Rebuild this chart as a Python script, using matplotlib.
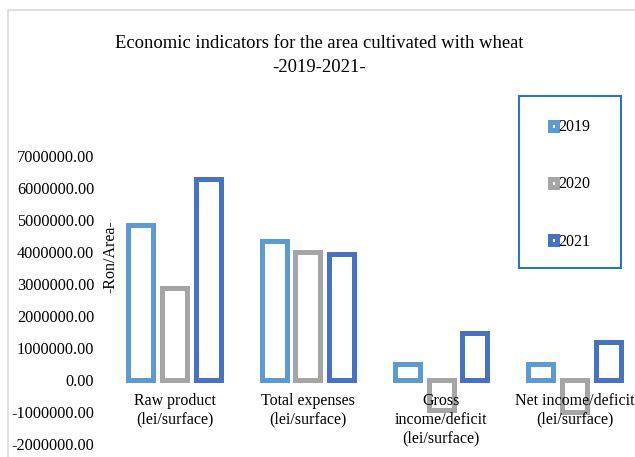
import numpy as np
import matplotlib
matplotlib.use("Agg")
import matplotlib.pyplot as plt
from matplotlib.patches import Rectangle, Patch
from matplotlib.ticker import FuncFormatter

# indicator groups on the x axis
categories = ["Raw product\n(lei/surface)",
              "Total expenses\n(lei/surface)",
              "Gross\nincome/deficit\n(lei/surface)",
              "Net income/deficit\n(lei/surface)"]

years = ["2019", "2020", "2021"]

# Ron per area, one list per year
val_2019 = [4840000.0, 4340000.0, 500000.0, 500000.0]
val_2020 = [2870000.0, 4000000.0, -950000.0, -1010000.0]
val_2021 = [6280000.0, 3950000.0, 1480000.0, 1190000.0]

colors = ["#5B9BD5", "#A5A5A5", "#4472C4"]

plt.rcParams["font.family"] = ["Liberation Serif", "DejaVu Serif"]

fig = plt.figure(figsize=(6.35, 4.57), dpi=100)
W, H = 635.0, 457.0

# light grey chart border (right and bottom run off the canvas)
fig.patches.append(Rectangle((8 / W, -0.2), 1.5, 1.2 - 10 / H,
                             transform=fig.transFigure, fill=False,
                             edgecolor="#D9D9D9", linewidth=1.2))

ax = fig.add_axes([108 / W, 13 / H, 533.3 / W, 288 / H])

x = np.arange(len(categories))
offset = 0.2525
width = 0.1875
for i, (vals, c) in enumerate(zip([val_2019, val_2020, val_2021], colors)):
    ax.bar(x + (i - 1) * offset, vals, width, facecolor="white",
           edgecolor=c, linewidth=3.6, joinstyle="miter", label=years[i])

ax.set_xlim(-0.5, 3.5)
ax.set_ylim(-2000000, 7000000)
ax.set_yticks(np.arange(-2000000, 7000001, 1000000))
ax.yaxis.set_major_formatter(FuncFormatter(lambda v, p: f"{v:.2f}"))
ax.tick_params(axis="y", length=0, pad=10, labelsize=11.7)

ax.tick_params(axis="x", length=0, pad=9.5, labelsize=11.5)
ax.set_xticks(x)
ax.set_xticklabels(categories, linespacing=1.1)
ax.spines["bottom"].set_position(("data", 0))
for s in ax.spines.values():
    s.set_visible(False)

fig.text(110 / W, 1 - 257 / H, "-Ron/Area-", rotation=90,
         ha="center", va="center", fontsize=11.5)

fig.text(319 / W, 1 - 44 / H, "Economic indicators for the area cultivated with wheat",
         ha="center", va="center", fontsize=13.4)
fig.text(319 / W, 1 - 67 / H, "-2019-2021-", ha="center", va="center", fontsize=13.4)

# legend box
fig.patches.append(Rectangle((519 / W, 1 - 268 / H), 102 / W, 172 / H,
                             transform=fig.transFigure, fill=False,
                             edgecolor="#2E75B6", linewidth=1.5))
handles = [Patch(facecolor="white", edgecolor=c, linewidth=3.6, label=y)
           for c, y in zip(colors, years)]
fig.legend(handles=handles, loc="center", bbox_to_anchor=(570 / W, 1 - 184.5 / H),
           frameon=False, fontsize=11.5, handlelength=0.44, handleheight=0.44,
           handletextpad=0.1, labelspacing=2.57)

fig.savefig("out.png", dpi=100)
